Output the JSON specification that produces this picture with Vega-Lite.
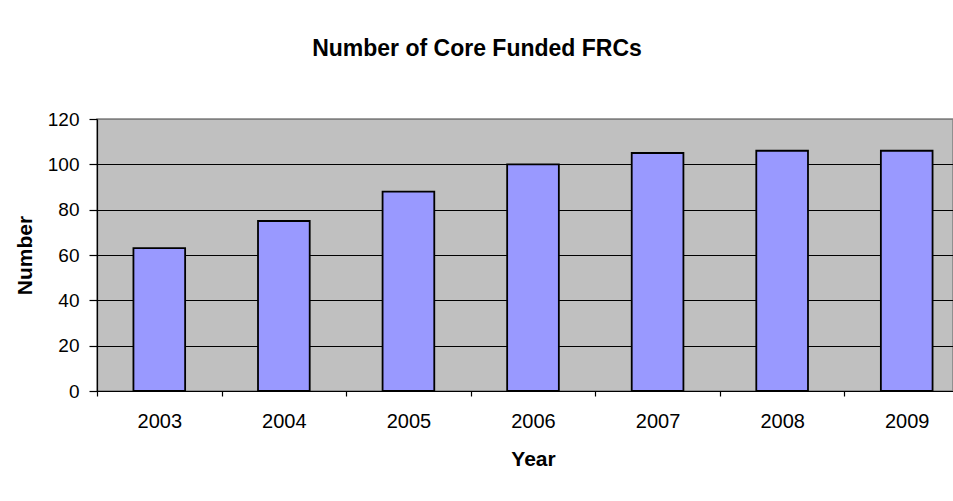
{
  "$schema": "https://vega.github.io/schema/vega-lite/v6.json",
  "autosize": "none",
  "width": 856,
  "height": 272,
  "padding": {"left": 97, "top": 119, "right": 0, "bottom": 110},
  "background": "white",
  "title": {
    "text": "Number of Core Funded FRCs",
    "font": "Liberation Sans",
    "fontSize": 23,
    "fontWeight": "bold",
    "color": "black",
    "anchor": "middle",
    "frame": "group",
    "dx": -48,
    "offset": 49
  },
  "data": {
    "values": [
      {"Year": "2003", "Number": 63},
      {"Year": "2004", "Number": 75},
      {"Year": "2005", "Number": 88},
      {"Year": "2006", "Number": 100},
      {"Year": "2007", "Number": 105},
      {"Year": "2008", "Number": 106},
      {"Year": "2009", "Number": 106}
    ]
  },
  "mark": {"type": "bar", "fill": "#9999FF", "stroke": "black", "strokeWidth": 1.8, "width": {"band": 0.415}},
  "encoding": {
    "x": {
      "field": "Year",
      "type": "ordinal",
      "scale": {"paddingInner": 0, "paddingOuter": 0, "range": [0, 872]},
      "axis": {
        "title": "Year",
        "labelAngle": 0,
        "tickBand": "extent",
        "tickSize": 5,
        "labelPadding": 15,
        "titlePadding": 17
      }
    },
    "y": {
      "field": "Number",
      "type": "quantitative",
      "scale": {"domain": [0, 120], "nice": false},
      "axis": {
        "title": "Number",
        "values": [0, 20, 40, 60, 80, 100, 120],
        "tickSize": 8,
        "labelPadding": 10,
        "titlePadding": 12,
        "grid": true,
        "gridColor": {"condition": {"test": "datum.value === 120", "value": "#808080"}, "value": "black"},
        "gridWidth": 1.2
      }
    }
  },
  "config": {
    "font": "Liberation Sans",
    "view": {"fill": "#C0C0C0", "stroke": "#808080", "strokeWidth": 1.5},
    "axis": {
      "domainColor": "black",
      "domainWidth": 1.2,
      "tickColor": "black",
      "tickWidth": 1.2,
      "labelFont": "Liberation Sans",
      "labelFontSize": 20,
      "labelColor": "black",
      "titleFont": "Liberation Sans",
      "titleFontSize": 21,
      "titleFontWeight": "bold",
      "titleColor": "black"
    },
    "axisY": {"labelFontSize": 19}
  }
}
